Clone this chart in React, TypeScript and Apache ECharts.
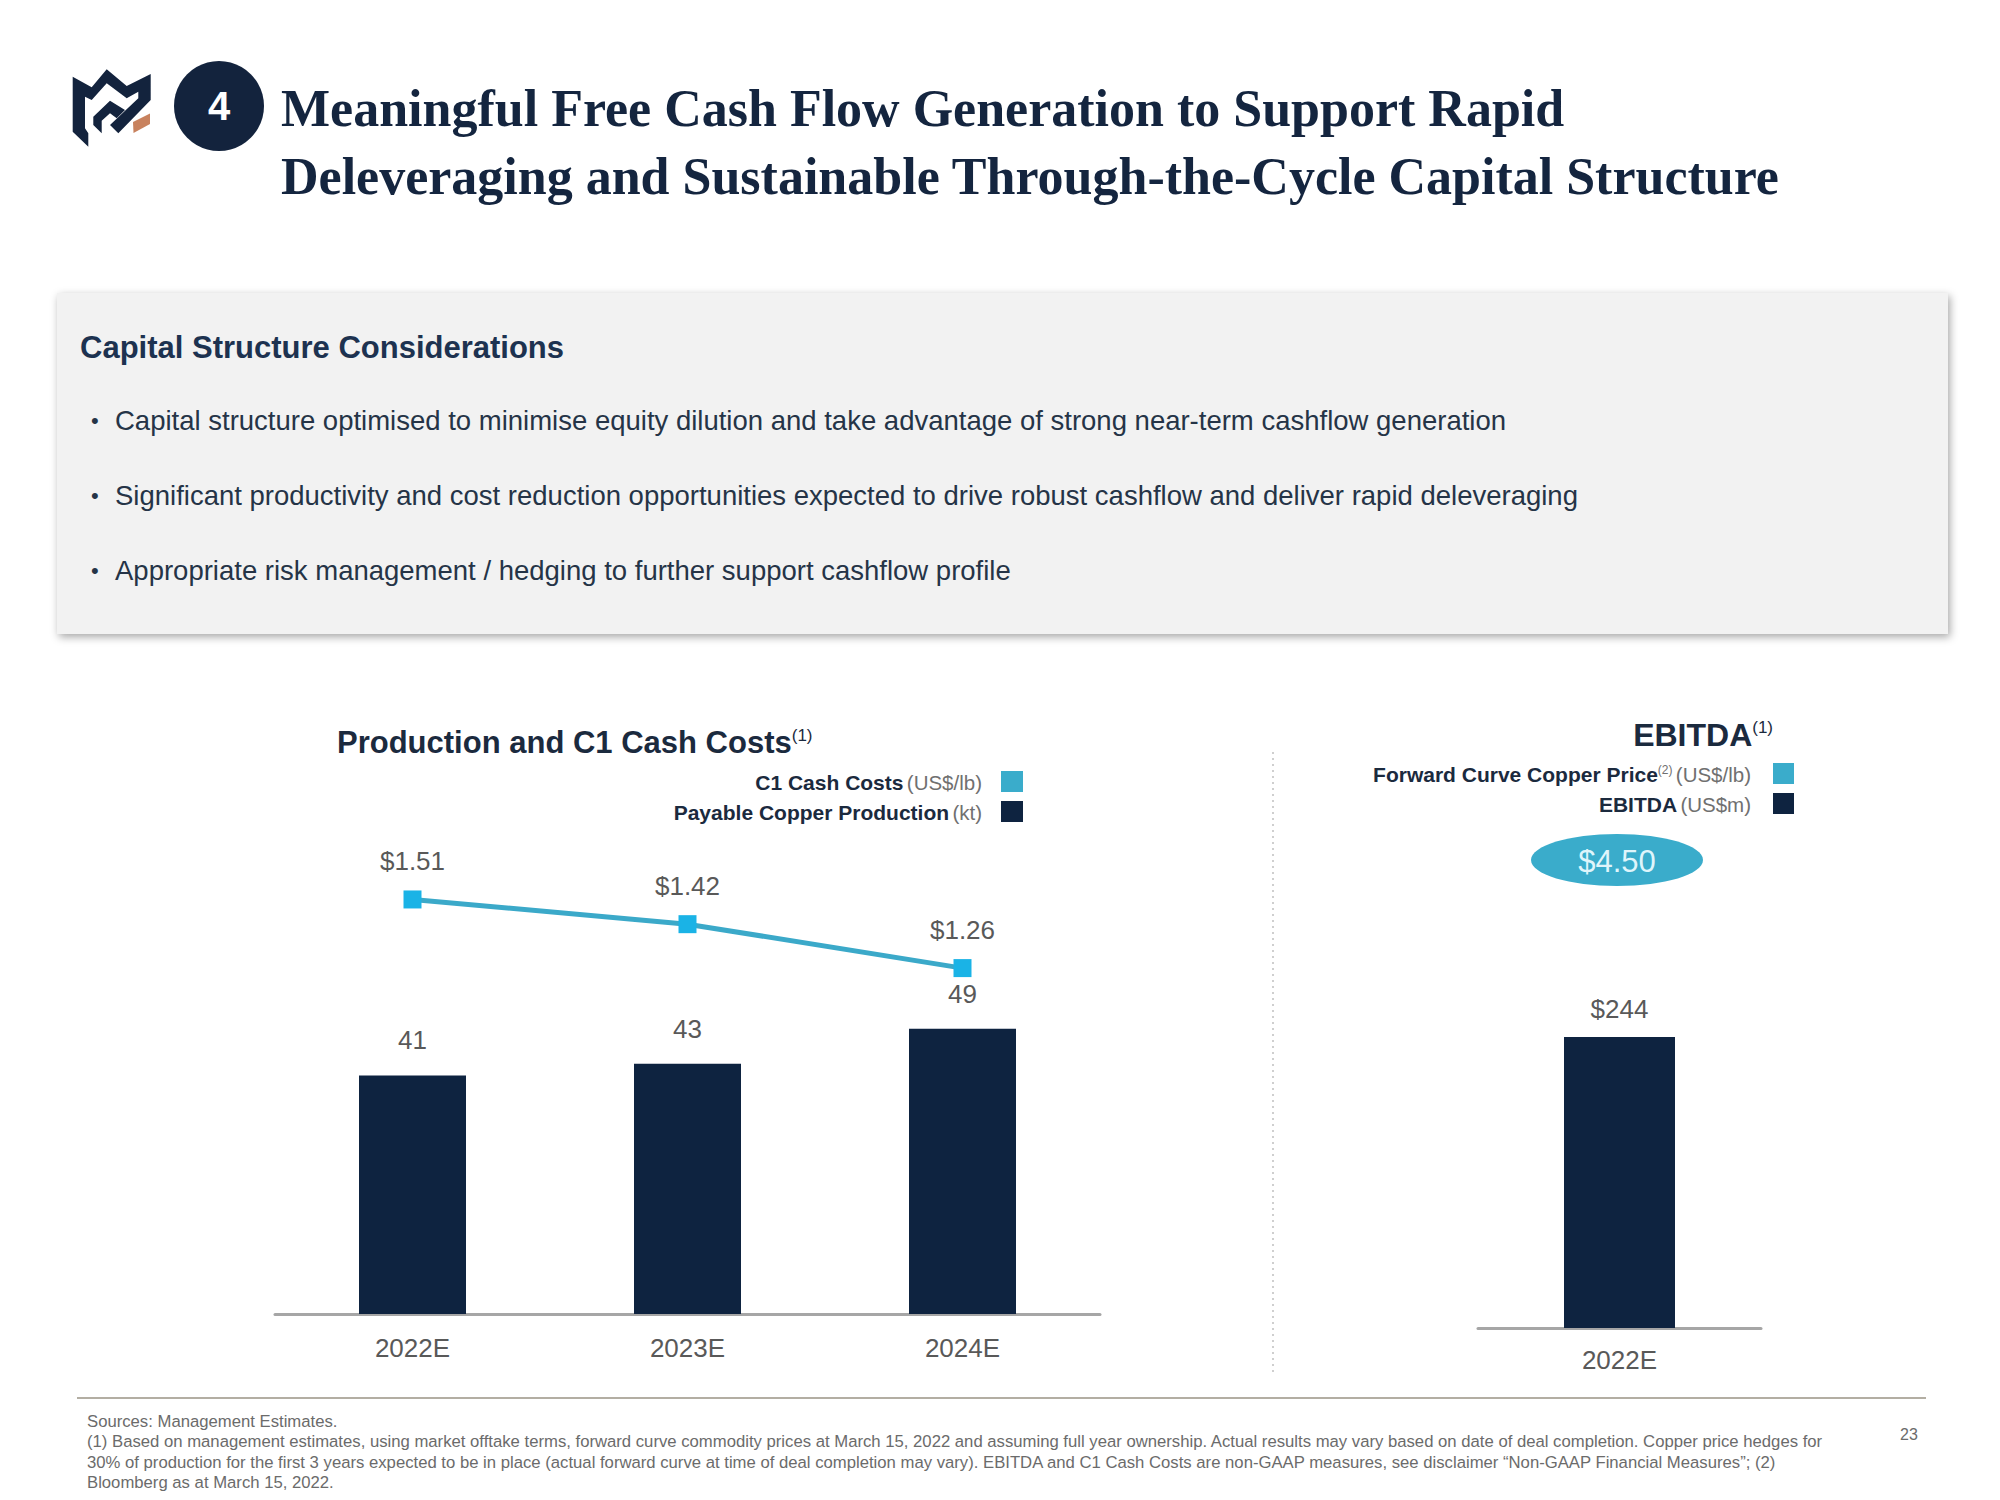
import React, { useEffect, useRef } from "react";
import * as echarts from "echarts";

const categories = ["2022E", "2023E", "2024E"];
const copperProduction = [41, 43, 49];
const c1CashCosts = [1.51, 1.42, 1.26];
const ebitdaCategories = ["2022E"];
const ebitdaValues = [244];
const copperPrice = [4.5];

const titleLines = [
  "Meaningful Free Cash Flow Generation to Support Rapid",
  "Deleveraging and Sustainable Through-the-Cycle Capital Structure",
];
const boxHeading = "Capital Structure Considerations";
const bullets = [
  "Capital structure optimised to minimise equity dilution and take advantage of strong near-term cashflow generation",
  "Significant productivity and cost reduction opportunities expected to drive robust cashflow and deliver rapid deleveraging",
  "Appropriate risk management / hedging to further support cashflow profile",
];
const footnotes = [
  "Sources: Management Estimates.",
  "(1) Based on management estimates, using market offtake terms, forward curve commodity prices at March 15, 2022 and assuming full year ownership. Actual results may vary based on date of deal completion. Copper price hedges for",
  "30% of production for the first 3 years expected to be in place (actual forward curve at time of deal completion may vary). EBITDA and C1 Cash Costs are non-GAAP measures, see disclaimer \u201cNon-GAAP Financial Measures\u201d; (2)",
  "Bloomberg as at March 15, 2022.",
];

const NAVY = "#0e2340";
const CYAN = "#3aaccb";
const GREY = "#595959";
const SANS = "'Liberation Sans', Arial, sans-serif";
const SERIF = "'Liberation Serif', 'Times New Roman', serif";

export default function App() {
  const ref = useRef<HTMLDivElement>(null);

  useEffect(() => {
    if (!ref.current) return;
    const chart = echarts.init(ref.current, undefined, { renderer: "svg" });

    const graphics: any[] = [];
    // logo
    graphics.push({
      type: "polygon",
      shape: {
        points: [
          [72.7, 76.7], [91.7, 87.3], [106.7, 69.3], [126.7, 86], [150.7, 74], [150.7, 100],
          [118.3, 133.3], [110, 125], [138.3, 98.3], [138.3, 91.7], [126.7, 98.3], [106.7, 83.3],
          [91.7, 100], [85, 96.7], [85, 128.3], [88.3, 133.3], [88.3, 146.7], [72.7, 131.7],
        ],
      },
      style: { fill: "#13233d" },
    });
    graphics.push({
      type: "polygon",
      shape: {
        points: [
          [93.3, 116.7], [110, 100.7], [125, 110], [116.7, 118.3], [110, 113.3], [101.7, 120.7],
          [101.7, 133.3], [93.3, 125],
        ],
      },
      style: { fill: "#13233d" },
    });
    graphics.push({
      type: "polygon",
      shape: { points: [[133, 122], [150, 113.5], [150, 124], [133.5, 133]] },
      style: { fill: "#c8825e" },
    });
    graphics.push({ type: "circle", shape: { cx: 219, cy: 106, r: 45 }, style: { fill: "#13233d" } });
    graphics.push({
      type: "text", x: 219, y: 106,
      style: { text: "4", fill: "#ffffff", fontSize: 40, fontWeight: "bold", fontFamily: SANS, align: "center", verticalAlign: "middle" },
    });
    titleLines.forEach((t, i) => {
      graphics.push({
        type: "text", x: 281, y: 108 + i * 68,
        style: { text: t, fill: "#14253f", fontSize: 52, fontWeight: "bold", fontFamily: SERIF, align: "left", verticalAlign: "middle" },
      });
    });

    // grey box
    graphics.push({
      type: "rect",
      shape: { x: 57, y: 293, width: 1891, height: 341 },
      style: { fill: "#f2f2f2", shadowBlur: 8, shadowOffsetX: 2, shadowOffsetY: 3, shadowColor: "rgba(0,0,0,0.35)" },
    });
    graphics.push({
      type: "text", x: 80, y: 347,
      style: { text: boxHeading, fill: "#1d3250", fontSize: 31, fontWeight: "bold", fontFamily: SANS, align: "left", verticalAlign: "middle" },
    });
    bullets.forEach((b, i) => {
      const y = 420 + i * 75;
      graphics.push({
        type: "text", x: 91, y,
        style: { text: "\u2022", fill: "#253447", fontSize: 22, fontFamily: SANS, align: "left", verticalAlign: "middle" },
      });
      graphics.push({
        type: "text", x: 115, y,
        style: { text: b, fill: "#253447", fontSize: 27.5, fontFamily: SANS, align: "left", verticalAlign: "middle" },
      });
    });

    // chart 1 title and legend
    graphics.push({
      type: "text", x: 337, y: 742,
      style: {
        text: "{t|Production and C1 Cash Costs}{s|(1)}",
        fontFamily: SANS, align: "left", verticalAlign: "middle",
        rich: {
          t: { fontSize: 31, fontWeight: "bold", fill: "#1b2a3e", fontFamily: SANS },
          s: { fontSize: 17, fill: "#1b2a3e", fontFamily: SANS, verticalAlign: "top" },
        },
      },
    });
    const legend1 = [
      { b: "C1 Cash Costs", g: "(US$/lb)", color: CYAN, y: 782 },
      { b: "Payable Copper Production", g: "(kt)", color: NAVY, y: 812 },
    ];
    legend1.forEach((l) => {
      graphics.push({
        type: "text", x: 982, y: l.y,
        style: {
          text: `{b|${l.b}} {g|${l.g}}`, align: "right", verticalAlign: "middle", fontFamily: SANS,
          rich: {
            b: { fontSize: 21, fontWeight: "bold", fill: "#1b2a3e", fontFamily: SANS },
            g: { fontSize: 20.5, fill: "#707070", fontFamily: SANS },
          },
        },
      });
      graphics.push({ type: "rect", shape: { x: 1001, y: l.y - 11, width: 22, height: 21 }, style: { fill: l.color } });
    });

    // divider
    graphics.push({
      type: "line",
      shape: { x1: 1273, y1: 752, x2: 1273, y2: 1372 },
      style: { stroke: "#cfcfcf", lineWidth: 2, lineDash: [2, 4] },
    });

    // chart 2 title and legend
    graphics.push({
      type: "text", x: 1773, y: 735,
      style: {
        text: "{t|EBITDA}{s|(1)}", align: "right", verticalAlign: "middle", fontFamily: SANS,
        rich: {
          t: { fontSize: 32, fontWeight: "bold", fill: "#1b2a3e", fontFamily: SANS },
          s: { fontSize: 17, fill: "#1b2a3e", fontFamily: SANS, verticalAlign: "top" },
        },
      },
    });
    const legend2 = [
      { b: "Forward Curve Copper Price", s: "(2)", g: "(US$/lb)", color: CYAN, y: 774 },
      { b: "EBITDA", s: "", g: "(US$m)", color: NAVY, y: 804 },
    ];
    legend2.forEach((l) => {
      graphics.push({
        type: "text", x: 1751, y: l.y,
        style: {
          text: `{b|${l.b}}` + (l.s ? `{s|${l.s}}` : "") + ` {g|${l.g}}`,
          align: "right", verticalAlign: "middle", fontFamily: SANS,
          rich: {
            b: { fontSize: 21, fontWeight: "bold", fill: "#1b2a3e", fontFamily: SANS },
            s: { fontSize: 12, fill: "#707070", fontFamily: SANS, verticalAlign: "top" },
            g: { fontSize: 20.5, fill: "#707070", fontFamily: SANS },
          },
        },
      });
      graphics.push({ type: "rect", shape: { x: 1773, y: l.y - 11, width: 21, height: 21 }, style: { fill: l.color } });
    });
    graphics.push({ type: "ellipse", shape: { cx: 1617, cy: 860, rx: 86, ry: 26 }, style: { fill: CYAN } });
    graphics.push({
      type: "text", x: 1617, y: 861,
      style: { text: "$" + copperPrice[0].toFixed(2), fill: "#dff5fb", fontSize: 31, fontFamily: SANS, align: "center", verticalAlign: "middle" },
    });

    // footer
    graphics.push({
      type: "line",
      shape: { x1: 77, y1: 1398, x2: 1926, y2: 1398 },
      style: { stroke: "#b3aea3", lineWidth: 2 },
    });
    footnotes.forEach((f, i) => {
      graphics.push({
        type: "text", x: 87, y: 1421 + i * 20.5,
        style: { text: f, fill: "#6b6b6b", fontSize: 16.7, fontFamily: SANS, align: "left", verticalAlign: "middle" },
      });
    });
    graphics.push({
      type: "text", x: 1909, y: 1434,
      style: { text: "23", fill: "#6b6b6b", fontSize: 16, fontFamily: SANS, align: "center", verticalAlign: "middle" },
    });

    const option: any = {
      animation: false,
      backgroundColor: "#ffffff",
      textStyle: { fontFamily: SANS },
      grid: [
        { left: 275, top: 732, width: 825, height: 582 },
        { left: 1478, top: 851, width: 283, height: 477 },
      ],
      xAxis: [
        {
          gridIndex: 0, type: "category", data: categories,
          axisLine: { lineStyle: { color: "#a6a6a6", width: 3 } },
          axisTick: { show: false },
          axisLabel: { color: GREY, fontSize: 26, margin: 21, fontFamily: SANS },
        },
        {
          gridIndex: 1, type: "category", data: ebitdaCategories,
          axisLine: { lineStyle: { color: "#a6a6a6", width: 3 } },
          axisTick: { show: false },
          axisLabel: { color: GREY, fontSize: 26, margin: 19, fontFamily: SANS },
        },
      ],
      yAxis: [
        { gridIndex: 0, type: "value", min: 0, max: 100, show: false },
        { gridIndex: 0, type: "value", min: 0, max: 2.12, show: false },
        { gridIndex: 1, type: "value", min: 0, max: 400, show: false },
      ],
      series: [
        {
          type: "bar", name: "Payable Copper Production", xAxisIndex: 0, yAxisIndex: 0,
          data: copperProduction, barWidth: 107,
          itemStyle: { color: NAVY },
          label: { show: true, position: "top", distance: 22, color: GREY, fontSize: 26, fontFamily: SANS },
        },
        {
          type: "line", name: "C1 Cash Costs", xAxisIndex: 0, yAxisIndex: 1,
          data: c1CashCosts, symbol: "rect", symbolSize: 18, z: 5,
          itemStyle: { color: "#1ab3e6" },
          lineStyle: { color: "#3ba9c9", width: 5 },
          label: {
            show: true, position: "top", distance: 16, color: GREY, fontSize: 26, fontFamily: SANS,
            formatter: (p: any) => "$" + Number(p.value).toFixed(2),
          },
        },
        {
          type: "bar", name: "EBITDA", xAxisIndex: 1, yAxisIndex: 2,
          data: ebitdaValues, barWidth: 111,
          itemStyle: { color: NAVY },
          label: {
            show: true, position: "top", distance: 15, color: GREY, fontSize: 26, fontFamily: SANS,
            formatter: (p: any) => "$" + p.value,
          },
        },
      ],
      graphic: { elements: graphics },
    };
    chart.setOption(option);
    return () => chart.dispose();
  }, []);

  return (
    <div
      ref={ref}
      style={{ position: "fixed", left: 0, top: 0, width: 2000, height: 1500 }}
    />
  );
}
